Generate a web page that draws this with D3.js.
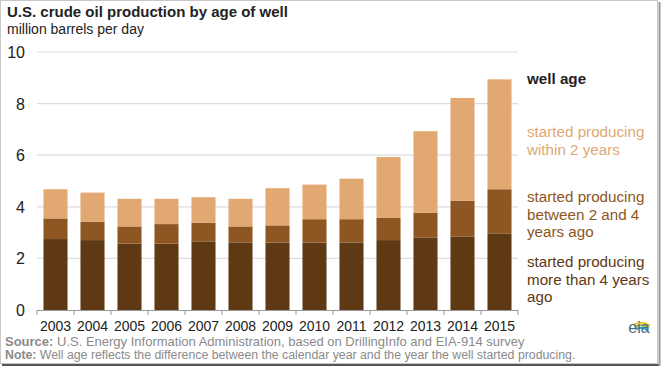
<!DOCTYPE html>
<html>
<head>
<meta charset="utf-8">
<script src="https://cdn.jsdelivr.net/npm/d3@7"></script>
<style>
  body { margin: 0; background: #fff; }
  text { font-family: Arial, "Liberation Sans", sans-serif; }
</style>
</head>
<body>
<script>
// values (million barrels per day)
const years = ['2003','2004','2005','2006','2007','2008','2009','2010','2011','2012','2013','2014','2015'];
const over4 = [2.75, 2.71, 2.57, 2.57, 2.66, 2.62, 2.61, 2.61, 2.61, 2.71, 2.80, 2.84, 2.97];
const between2and4 = [0.80, 0.71, 0.67, 0.76, 0.72, 0.62, 0.67, 0.91, 0.91, 0.86, 0.97, 1.40, 1.71];
const within2 = [1.13, 1.13, 1.07, 0.98, 0.99, 1.07, 1.44, 1.34, 1.57, 2.36, 3.16, 3.98, 4.26];
const yTicks = [0, 2, 4, 6, 8, 10];

const colors = { over4: '#5e3914', mid: '#8d5622', recent: '#e1a872' };

const W = 664, H = 368;
const svg = d3.select('body').append('svg')
  .attr('width', W)
  .attr('height', H);

// frame round the picture
svg.append('rect')
  .attr('x', 0.5).attr('y', 0.5)
  .attr('width', 657).attr('height', 363)
  .attr('fill', 'none')
  .attr('stroke', '#c8c8c8');
svg.append('line').attr('x1', 2).attr('x2', 660).attr('y1', 365).attr('y2', 365)
  .attr('stroke', '#555').attr('stroke-width', 2);
svg.append('line').attr('x1', 659.5).attr('x2', 659.5).attr('y1', 2).attr('y2', 366)
  .attr('stroke', '#999').attr('stroke-width', 2);

const x = d3.scaleBand().domain(years).range([37, 518]).paddingInner(0.35).paddingOuter(0.175);
const y = d3.scaleLinear().domain([0, 10]).range([310, 52]);

// gridlines
svg.append('g')
  .selectAll('line')
  .data(yTicks.filter(d => d > 0))
  .enter().append('line')
  .attr('x1', 37).attr('x2', 518)
  .attr('y1', d => y(d)).attr('y2', d => y(d))
  .attr('stroke', '#dcdcdc')
  .attr('stroke-width', 1.2);

// y labels
svg.append('g')
  .selectAll('text')
  .data(yTicks)
  .enter().append('text')
  .attr('x', 25)
  .attr('y', d => y(d) + 6)
  .attr('text-anchor', 'end')
  .attr('font-size', 16)
  .attr('fill', '#222')
  .text(d => d);

// stacked bars
const rows = years.map((yr, i) => ({ year: yr, over4: over4[i], mid: between2and4[i], recent: within2[i] }));
const stack = d3.stack().keys(['over4', 'mid', 'recent'])(rows);

svg.append('g')
  .selectAll('g')
  .data(stack)
  .enter().append('g')
  .attr('fill', d => colors[d.key])
  .selectAll('rect')
  .data(d => d)
  .enter().append('rect')
  .attr('x', d => x(d.data.year))
  .attr('width', x.bandwidth())
  .attr('y', d => y(d[1]))
  .attr('height', d => y(d[0]) - y(d[1]));

// x axis line with ticks between bars
const axis = svg.append('g');
axis.append('line')
  .attr('x1', 37).attr('x2', 518)
  .attr('y1', 310.5).attr('y2', 310.5)
  .attr('stroke', '#999');
const step = x.step();
axis.selectAll('line.tick')
  .data(d3.range(years.length + 1))
  .enter().append('line')
  .attr('class', 'tick')
  .attr('x1', i => 37 + i * step).attr('x2', i => 37 + i * step)
  .attr('y1', 310).attr('y2', 315)
  .attr('stroke', '#999');
axis.selectAll('text')
  .data(years)
  .enter().append('text')
  .attr('x', d => x(d) + x.bandwidth() / 2)
  .attr('y', 331)
  .attr('text-anchor', 'middle')
  .attr('font-size', 14)
  .attr('fill', '#222')
  .text(d => d);

// titles
svg.append('text')
  .attr('x', 7).attr('y', 17)
  .attr('font-size', 15).attr('font-weight', 'bold').attr('fill', '#222')
  .text('U.S. crude oil production by age of well');
svg.append('text')
  .attr('x', 7).attr('y', 34)
  .attr('font-size', 14).attr('fill', '#222')
  .text('million barrels per day');

// legend
const legend = [
  { lines: ['well age'], color: '#222', y: 84, bold: true },
  { lines: ['started producing', 'within 2 years'], color: colors.recent, y: 137 },
  { lines: ['started producing', 'between 2 and 4', 'years ago'], color: colors.mid, y: 202 },
  { lines: ['started producing', 'more than 4 years', 'ago'], color: colors.over4, y: 267 }
];
legend.forEach(l => {
  svg.append('text')
    .attr('x', 527).attr('y', l.y)
    .attr('font-size', 15.2)
    .attr('font-weight', l.bold ? 'bold' : 'normal')
    .attr('fill', l.color)
    .selectAll('tspan')
    .data(l.lines)
    .enter().append('tspan')
    .attr('x', 527)
    .attr('dy', (d, i) => i ? 17.5 : 0)
    .text(d => d);
});

// source and note
const src = svg.append('text').attr('x', 5).attr('y', 346).attr('font-size', 13).attr('fill', '#8a8a8a');
src.append('tspan').attr('font-weight', 'bold').text('Source:');
src.append('tspan').text(' U.S. Energy Information Administration, based on DrillingInfo and EIA-914 survey');
const note = svg.append('text').attr('x', 5).attr('y', 359).attr('font-size', 12.3).attr('fill', '#8a8a8a');
note.append('tspan').attr('font-weight', 'bold').text('Note:');
note.append('tspan').text(' Well age reflects the difference between the calendar year and the year the well started producing.');

// eia logo
const logo = svg.append('g').attr('transform', 'translate(639,333)');
[['#f2c230', 17], ['#8cc152', 14.5], ['#2a9fd6', 12]].forEach(([c, r]) => {
  logo.append('path')
    .attr('d', d3.arc().innerRadius(r - 2).outerRadius(r).startAngle(-0.5).endAngle(0.6)())
    .attr('transform', 'translate(2,6)')
    .attr('fill', c);
});
logo.append('text')
  .attr('x', 0).attr('y', 0)
  .attr('text-anchor', 'middle')
  .attr('font-family', '"DejaVu Serif", "Liberation Serif", serif')
  .attr('font-size', 16)
  .attr('fill', '#4d6a80')
  .text('eia');
</script>
</body>
</html>
